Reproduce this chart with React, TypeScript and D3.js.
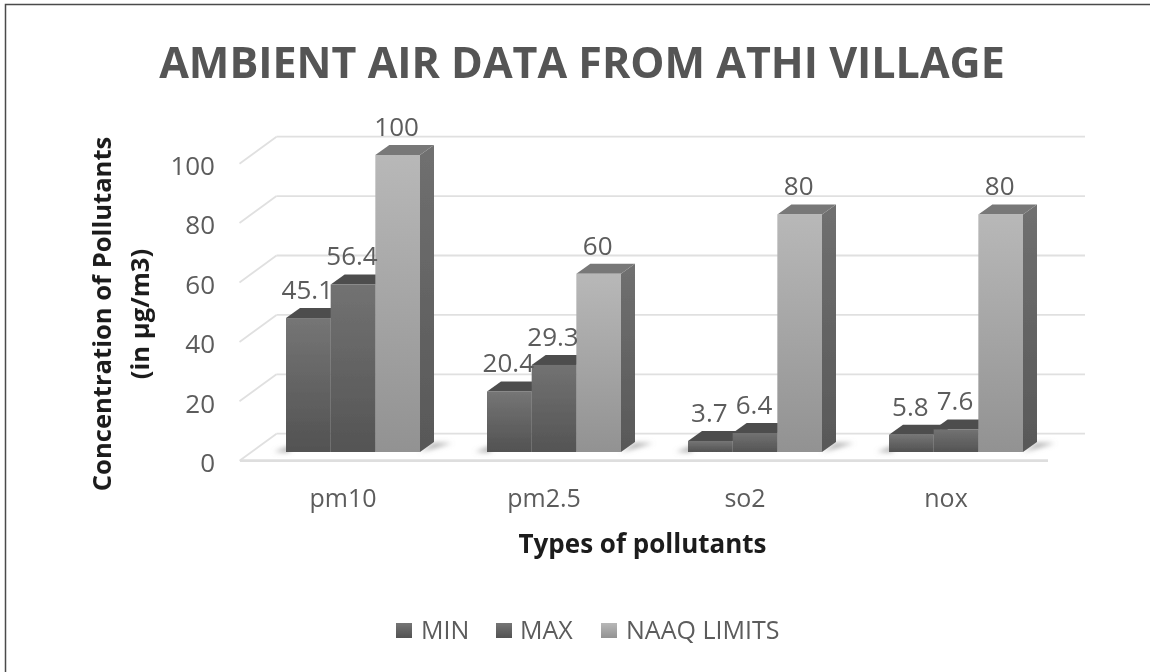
import React from "react";
import * as d3 from "d3";

const categories = ["pm10", "pm2.5", "so2", "nox"];
const seriesNames = ["MIN", "MAX", "NAAQ LIMITS"];
const minValues = [45.1, 20.4, 3.7, 5.8];
const maxValues = [56.4, 29.3, 6.4, 7.6];
const naaqValues = [100, 60, 80, 80];
const yTicks = [0, 20, 40, 60, 80, 100];
const seriesValues = [minValues, maxValues, naaqValues];

const W = 1153, H = 672;
const FONT = "'Open Sans', sans-serif";
const TXT = "#5c5c5c";
const DX = 14, DY = -10;        // bar depth
const WALL_DX = 37, WALL_DY = 27; // floor depth
const y = d3.scaleLinear().domain([0, 100]).range([452, 155]);
const x0 = d3.scaleBand<string>().domain(categories).range([252.5, 1056.5]).paddingInner(0).paddingOuter(0);
const clusterW = 134;
const x1 = d3.scaleBand<string>().domain(seriesNames).range([0, clusterW]);
const backY = (v: number) => y(v) - 18.3;
const poly = d3.line<[number, number]>();

const faces = [
  { front: "url(#gDark)", top: "#4e4e4e", side: "#555555" },
  { front: "url(#gDark2)", top: "#4e4e4e", side: "#555555" },
  { front: "url(#gLight)", top: "#787878", side: "url(#gSide)" },
];

export default function App() {
  const bw = x1.bandwidth();
  const left = (c: string) => (x0(c) as number) + x0.bandwidth() / 2 - clusterW / 2;
  return (
    <svg width={W} height={H} style={{ position: "absolute", left: 0, top: 0, background: "#fff" }} fontFamily={FONT}>
      <defs>
        <linearGradient id="gDark" x1="0" y1="0" x2="0" y2="1">
          <stop offset="0" stopColor="#757575" />
          <stop offset="1" stopColor="#525252" />
        </linearGradient>
        <linearGradient id="gDark2" x1="0" y1="0" x2="0" y2="1">
          <stop offset="0" stopColor="#727272" />
          <stop offset="1" stopColor="#545454" />
        </linearGradient>
        <linearGradient id="gLight" x1="0" y1="0" x2="0" y2="1">
          <stop offset="0" stopColor="#b8b8b8" />
          <stop offset="1" stopColor="#929292" />
        </linearGradient>
        <linearGradient id="gSide" x1="0" y1="0" x2="0" y2="1">
          <stop offset="0" stopColor="#707070" />
          <stop offset="1" stopColor="#585858" />
        </linearGradient>
        <filter id="soft" x="-5%" y="-5%" width="110%" height="110%">
          <feGaussianBlur stdDeviation="0.7" />
        </filter>
        <filter id="shadow" filterUnits="userSpaceOnUse" x="0" y="0" width={W} height={H}>
          <feGaussianBlur stdDeviation="2.5" />
        </filter>
      </defs>

      {/* frame: top and left only */}
      <path d={`M5.5 ${H} V4.5 H1150`} fill="none" stroke="#4a4a4a" strokeWidth={1.5} />

      <g filter="url(#soft)">
        <text x={582} y={78} textAnchor="middle" fontSize={43} fontWeight={700} fill="#545454">
          AMBIENT AIR DATA FROM ATHI VILLAGE
        </text>

        {/* walls */}
        {yTicks.map((t) => (
          <g key={t} fill="none" stroke="#e0e0e0" strokeWidth={1.8}>
            <path d={poly([[276.5, backY(t)], [1085, backY(t)]]) as string} />
            <path d={poly([[276.5, backY(t)], [276.5 - WALL_DX, backY(t) + WALL_DY]]) as string} />
          </g>
        ))}
        <path
          d={poly([[240, backY(0) + WALL_DY], [1048, backY(0) + WALL_DY]]) as string}
          stroke="#dedede" strokeWidth={2.8} fill="none"
        />
        {yTicks.map((t) => (
          <text key={t} x={215} y={y(t) + 20} textAnchor="end" fontSize={26} fill={TXT}>{t}</text>
        ))}

        {/* floor shadows */}
        {categories.map((c) => {
          const l = left(c), r = l + clusterW;
          return (
            <g key={c} fill="#a8a8a8" filter="url(#shadow)">
              <path d={poly([[l - 12, y(0)], [l + 4, y(0) - 6], [l + 4, y(0)]]) + "Z"} />
              <path d={poly([[r, y(0)], [r + 14, y(0) - 9], [r + 32, y(0) - 9]]) + "Z"} />
            </g>
          );
        })}

        {/* bars */}
        {categories.map((c, i) =>
          seriesNames.map((s, k) => {
            const v = seriesValues[k][i];
            const xa = left(c) + (x1(s) as number), xb = xa + bw;
            const yt = y(v), yb = y(0);
            const f = faces[k];
            return (
              <g key={s}>
                <path fill={f.side} d={poly([[xb, yt], [xb + DX, yt + DY], [xb + DX, yb + DY], [xb, yb]]) + "Z"} />
                <path fill={f.top} d={poly([[xa, yt], [xa + DX, yt + DY], [xb + DX, yt + DY], [xb, yt]]) + "Z"} />
                <rect x={xa} y={yt} width={bw} height={yb - yt} fill={f.front} />
              </g>
            );
          })
        )}

        {/* data labels */}
        {categories.map((c, i) =>
          seriesNames.map((s, k) => {
            const v = seriesValues[k][i];
            const cx = left(c) + (x1(s) as number) + bw / 2;
            return (
              <text key={s} x={cx - 1} y={y(v) - 19.2} textAnchor="middle" fontSize={26} fill={TXT}>{v}</text>
            );
          })
        )}

        {/* category axis */}
        {categories.map((c) => (
          <text key={c} x={(x0(c) as number) + x0.bandwidth() / 2 - 10} y={507} textAnchor="middle" fontSize={25} fill={TXT}>{c}</text>
        ))}

        {/* axis titles */}
        <text x={642.5} y={553} textAnchor="middle" fontSize={26} fontWeight={700} fill="#1c1c1c">Types of pollutants</text>
        <g transform="translate(111,314) rotate(-90)" textAnchor="middle" fontSize={25.6} fontWeight={700} fill="#1c1c1c">
          <text x={0} y={0}>Concentration of Pollutants</text>
          <text x={0} y={38}>(in µg/m3)</text>
        </g>

        {/* legend */}
        {[{ sx: 396, tx: 421 }, { sx: 496, tx: 520 }, { sx: 601, tx: 626 }].map((p, k) => (
          <g key={k}>
            <rect x={p.sx} y={623} width={16} height={15} fill={k === 2 ? "url(#gLight)" : "url(#gDark)"} />
            <text x={p.tx} y={638.5} fontSize={25} fill={TXT}>{seriesNames[k]}</text>
          </g>
        ))}
      </g>
    </svg>
  );
}
